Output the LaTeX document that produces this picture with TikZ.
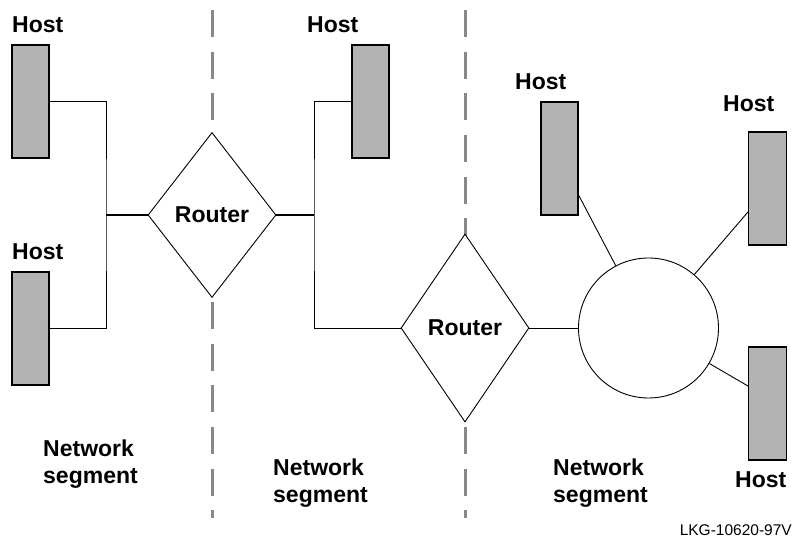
\documentclass[tikz,border=0pt]{standalone}
\usepackage{fontspec}
\setmainfont{Liberation Sans}
\usetikzlibrary{shapes.geometric}
\definecolor{hostgray}{RGB}{179,179,179}
\definecolor{dashgray}{RGB}{136,136,136}
\tikzset{
  host/.style={draw=black, line width=1.1pt, fill=hostgray, minimum width=37pt, minimum height=113pt, inner sep=0pt},
  router/.style={diamond, draw=black, line width=0.9pt, fill=white, inner sep=0pt, font=\fontsize{23}{27}\selectfont\bfseries},
  ring/.style={circle, draw=black, line width=0.9pt, fill=white, minimum size=140pt, inner sep=0pt},
  lbl/.style={inner sep=0pt, anchor=base west, font=\fontsize{23}{27}\selectfont\bfseries},
  wire/.style={draw=black, line width=0.9pt},
  thickwire/.style={draw=black, line width=2pt},
  segline/.style={draw=dashgray, line width=3pt, dash pattern=on 27pt off 14.7pt},
}
\begin{document}
\begin{tikzpicture}[x=1pt,y=-1pt]
\useasboundingbox (0,0) rectangle (793,537);
% segment separators
\coordinate (d1t) at (212,10);
\coordinate (d1b) at (212,518);
\coordinate (d2t) at (465,10);
\coordinate (d2b) at (465,518);
\draw[segline] (d1t) -- (d1b);
\draw[segline] (d2t) -- (d2b);
% hosts
\node[host] (h1) at (30.5,101.5) {};
\node[host] (h2) at (30.5,328.5) {};
\node[host] (h3) at (370.5,101.5) {};
\node[host] (h4) at (559.5,158.5) {};
\node[host, minimum width=38pt] (h5) at (767.5,188.5) {};
\node[host, minimum width=38pt] (h6) at (767.5,403.5) {};
% routers and ring
\node[router, minimum width=128pt, minimum height=165pt] (r1) at (212,215) {Router};
\node[router, minimum width=128pt, minimum height=188pt] (r2) at (465,328) {Router};
\node[ring] (c) at (648.5,328) {};
% junctions
\coordinate (j1) at (106,215);
\coordinate (j2) at (314,215);
% connectors
\draw[wire] (h1.east) -| (j1) |- (h2.east);
\draw[thickwire] (j1) -- (r1.west);
\draw[thickwire] (r1.east) -- (j2);
\draw[wire] (h3.west) -| (j2) |- (r2.west);
\draw[wire] (r2.east) -- (c.west);
\draw[wire] ([yshift=-36.5pt]h4.east) -- (c);
\draw[wire] ([yshift=-23.5pt]h5.west) -- (c);
\draw[wire] ([yshift=17.5pt]h6.west) -- (c);
% labels
\node[lbl] (t1) at (12,33) {Host};
\node[lbl] (t2) at (12,260) {Host};
\node[lbl] (t3) at (307,33) {Host};
\node[lbl] (t4) at (515,90) {Host};
\node[lbl] (t5) at (723,112) {Host};
\node[lbl] (t6) at (735,487) {Host};
\node[lbl] (n1a) at (43,456) {Network};
\node[lbl] (n1b) at (43,483) {segment};
\node[lbl] (n2a) at (273,475) {Network};
\node[lbl] (n2b) at (273,502) {segment};
\node[lbl] (n3a) at (553,475) {Network};
\node[lbl] (n3b) at (553,502) {segment};
\node[inner sep=0pt, anchor=base east, font=\fontsize{15.5}{18}\selectfont] (id) at (792,535) {LKG-10620-97V};
\end{tikzpicture}
\end{document}
